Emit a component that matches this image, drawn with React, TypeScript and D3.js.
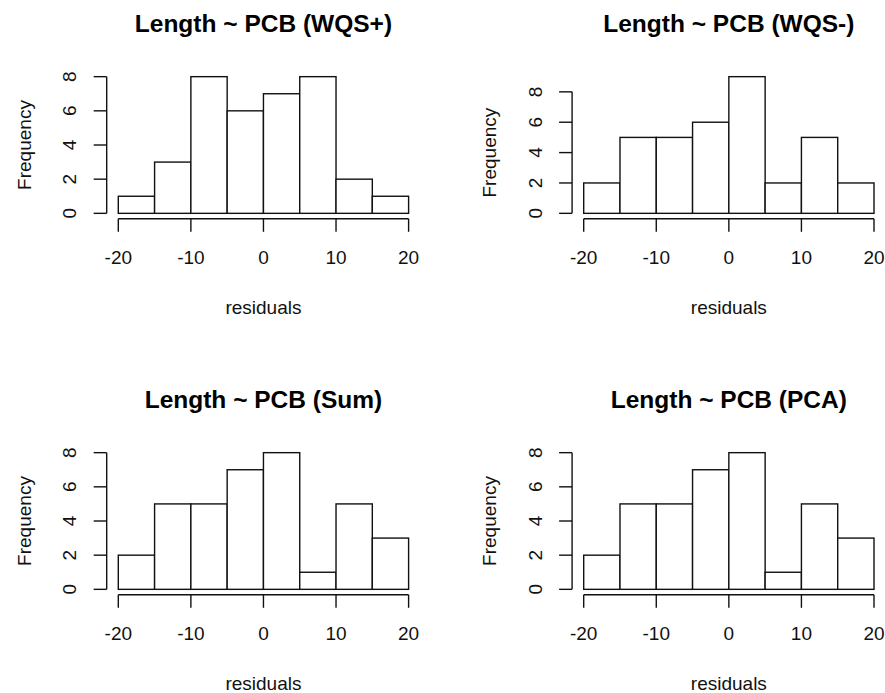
import React, { useRef, useEffect } from 'react';
import * as d3 from 'd3';

// histogram data: residual bins of width 5 from -20 to 20
const breaks = [-20, -15, -10, -5, 0, 5, 10, 15, 20];
const titles = ['Length ~ PCB (WQS+)', 'Length ~ PCB (WQS-)', 'Length ~ PCB (Sum)', 'Length ~ PCB (PCA)'];
const countsWqsPlus = [1, 3, 8, 6, 7, 8, 2, 1];
const countsWqsMinus = [2, 5, 5, 6, 9, 2, 5, 2];
const countsSum = [2, 5, 5, 7, 8, 1, 5, 3];
const countsPca = [2, 5, 5, 7, 8, 1, 5, 3];
const xTicks = [-20, -10, 0, 10, 20];
const yTicks = [0, 2, 4, 6, 8];

const allCounts = [countsWqsPlus, countsWqsMinus, countsSum, countsPca];

const App = () => {
  const svgRef = useRef(null);

  useEffect(() => {
    const width = 885;
    const height = 693;
    const font = 'Arial, "Liberation Sans", sans-serif';
    const ink = '#111';

    d3.select(svgRef.current).selectAll('*').remove();
    const svg = d3.select(svgRef.current)
      .attr('width', width)
      .attr('height', height);

    svg.append('rect').attr('width', width).attr('height', height).attr('fill', '#fff');

    // panel positions (left x of -20, row offset)
    const colLeft = [118.3, 583.7];
    const rowTop = [0, 376];
    const xSpan = 290.3; // pixels from -20 to 20
    const plotTop = 71.2;
    const plotBottom = 218.8;

    allCounts.forEach((counts, i) => {
      const col = i % 2;
      const row = Math.floor(i / 2);
      const dy = rowTop[row];

      const pxPerUnit = xSpan / 40;
      const x = d3.scaleLinear()
        .domain([-21.6, 21.6])
        .range([colLeft[col] - 1.6 * pxPerUnit, colLeft[col] + xSpan + 1.6 * pxPerUnit]);

      const maxC = d3.max(counts);
      const y = d3.scaleLinear()
        .domain([-0.04 * maxC, 1.04 * maxC])
        .range([plotBottom + dy, plotTop + dy]);

      const g = svg.append('g');

      // bars
      g.selectAll('rect.bar')
        .data(counts)
        .enter()
        .append('rect')
        .attr('class', 'bar')
        .attr('x', (d, j) => x(breaks[j]))
        .attr('width', (d, j) => x(breaks[j + 1]) - x(breaks[j]))
        .attr('y', d => y(d))
        .attr('height', d => y(0) - y(d))
        .attr('fill', '#fff')
        .attr('stroke', ink)
        .attr('stroke-width', 1.4);

      // x axis
      const xAxisY = y.range()[0];
      g.append('line')
        .attr('x1', x(-20)).attr('x2', x(20))
        .attr('y1', xAxisY).attr('y2', xAxisY)
        .attr('stroke', ink).attr('stroke-width', 1.4);
      g.selectAll('line.xt')
        .data(xTicks)
        .enter()
        .append('line')
        .attr('x1', d => x(d)).attr('x2', d => x(d))
        .attr('y1', xAxisY).attr('y2', xAxisY + 13)
        .attr('stroke', ink).attr('stroke-width', 1.4);
      g.selectAll('text.xt')
        .data(xTicks)
        .enter()
        .append('text')
        .attr('x', d => x(d))
        .attr('y', 264.3 + dy)
        .attr('text-anchor', 'middle')
        .attr('font-family', font)
        .attr('font-size', 19)
        .attr('fill', ink)
        .text(d => d);

      // y axis
      const yAxisX = x.range()[0];
      g.append('line')
        .attr('x1', yAxisX).attr('x2', yAxisX)
        .attr('y1', y(0)).attr('y2', y(8))
        .attr('stroke', ink).attr('stroke-width', 1.4);
      g.selectAll('line.yt')
        .data(yTicks)
        .enter()
        .append('line')
        .attr('x1', yAxisX - 13).attr('x2', yAxisX)
        .attr('y1', d => y(d)).attr('y2', d => y(d))
        .attr('stroke', ink).attr('stroke-width', 1.4);
      g.selectAll('text.yt')
        .data(yTicks)
        .enter()
        .append('text')
        .attr('transform', d => `translate(${yAxisX - 30.5}, ${y(d)}) rotate(-90)`)
        .attr('text-anchor', 'middle')
        .attr('font-family', font)
        .attr('font-size', 19)
        .attr('fill', ink)
        .text(d => d);

      const cx = (x(-20) + x(20)) / 2;

      // title
      g.append('text')
        .attr('x', cx)
        .attr('y', 31.7 + dy)
        .attr('text-anchor', 'middle')
        .attr('font-family', font)
        .attr('font-size', 24.5)
        .attr('font-weight', 'bold')
        .attr('fill', '#000')
        .text(titles[i]);

      // axis labels
      g.append('text')
        .attr('x', cx)
        .attr('y', 314 + dy)
        .attr('text-anchor', 'middle')
        .attr('font-family', font)
        .attr('font-size', 19)
        .attr('fill', ink)
        .text('residuals');

      g.append('text')
        .attr('transform', `translate(${yAxisX - 75.8}, ${(y(0) + y(8)) / 2}) rotate(-90)`)
        .attr('text-anchor', 'middle')
        .attr('font-family', font)
        .attr('font-size', 19)
        .attr('fill', ink)
        .text('Frequency');
    });
  }, []);

  return <svg ref={svgRef} style={{ position: 'absolute', left: 0, top: 0 }}></svg>;
};

export default App;
